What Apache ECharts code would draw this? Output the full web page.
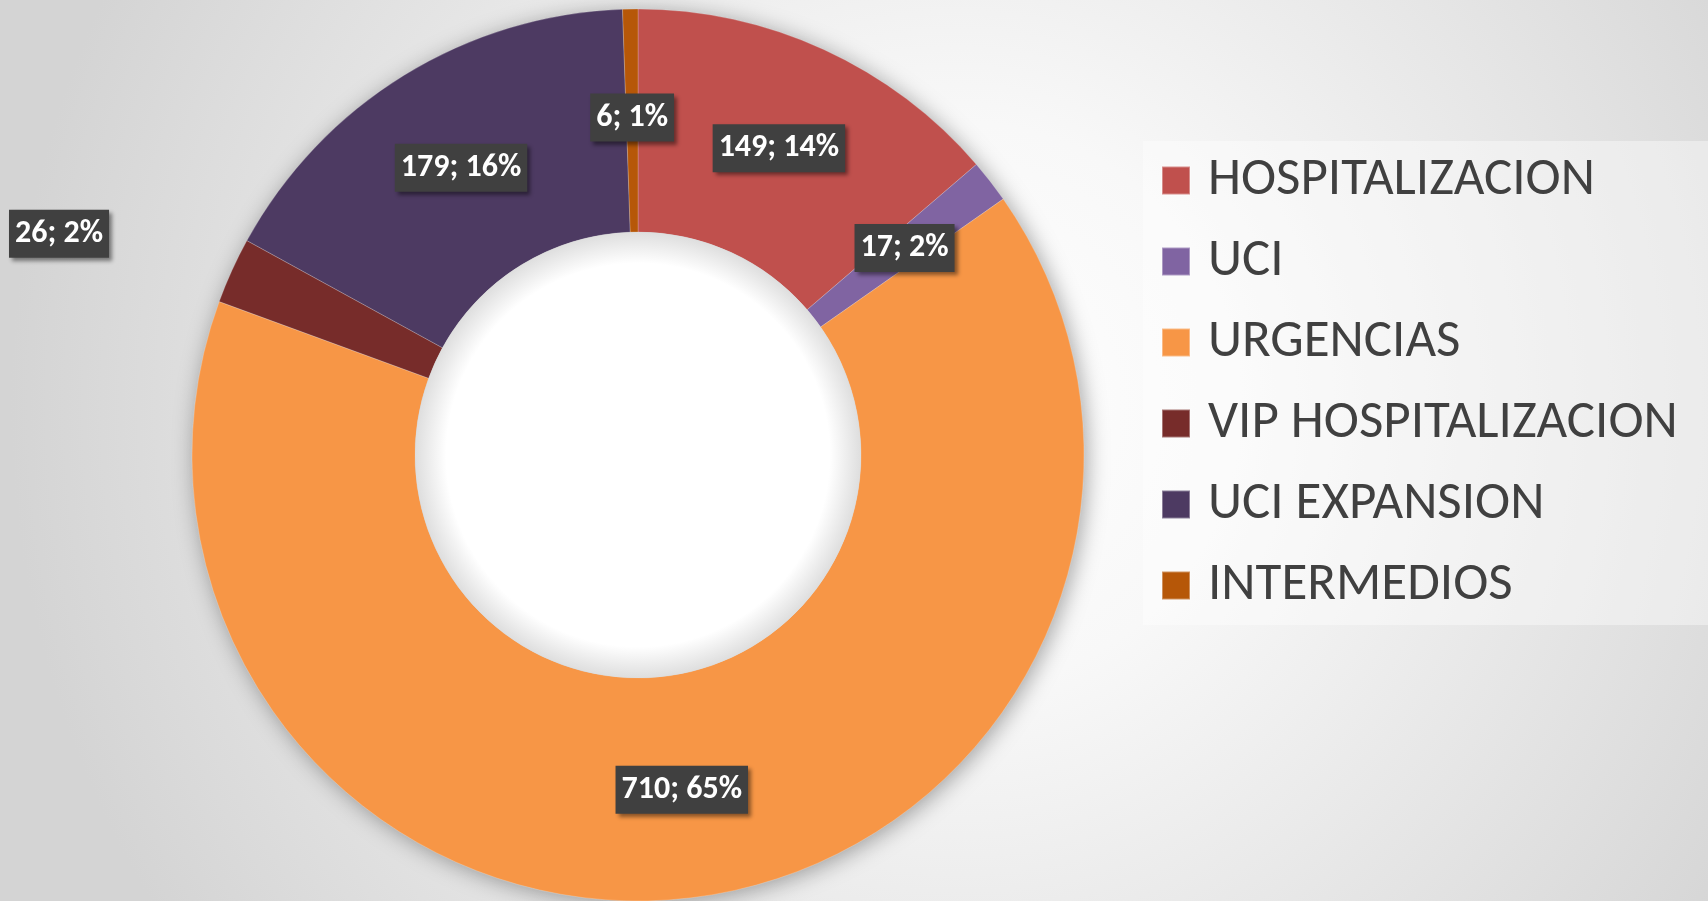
<!DOCTYPE html>
<html>
<head>
<meta charset="utf-8">
<script src="https://cdn.jsdelivr.net/npm/echarts@6/dist/echarts.min.js"></script>
<style>
  html, body { margin: 0; padding: 0; }
  #chart { width: 1708px; height: 901px; }
</style>
</head>
<body>
<div id="chart"></div>
<script>
// datos del grafico
var areas = ['HOSPITALIZACION', 'UCI', 'URGENCIAS', 'VIP HOSPITALIZACION', 'UCI EXPANSION', 'INTERMEDIOS'];
var pacientes = [149, 17, 710, 26, 179, 6];
var colores = ['#C0504D', '#8064A2', '#F79646', '#772C2A', '#4D3A62', '#B65708'];

var chart = echarts.init(document.getElementById('chart'));

var datos = [];
for (var i = 0; i < areas.length; i++) {
  var item = { name: areas[i], value: pacientes[i], itemStyle: { color: colores[i] } };
  // la etiqueta de VIP va fuera, a la izquierda
  if (areas[i] === 'VIP HOSPITALIZACION') {
    item.label = { position: 'outside', alignTo: 'edge', edgeDistance: 9 };
    item.labelLine = { show: false, length: 89, length2: 20 };
  }
  datos.push(item);
}

var etiqueta = {
  show: true,
  position: 'inside',
  formatter: '{c}; {d}%',
  color: '#fff',
  fontFamily: 'Carlito, Lato, sans-serif',
  fontWeight: 'bold',
  fontSize: 32,
  lineHeight: 38,
  backgroundColor: '#404040',
  padding: [5, 6],
  shadowColor: 'rgba(0,0,0,0.45)',
  shadowBlur: 4,
  shadowOffsetX: 3,
  shadowOffsetY: 3
};

var option = {
  backgroundColor: {
    type: 'radial', x: 0.56, y: 0.45, r: 1.05,
    colorStops: [
      { offset: 0, color: '#ffffff' },
      { offset: 0.3, color: '#f8f8f8' },
      { offset: 1, color: '#d4d4d4' }
    ]
  },
  animation: false,
  legend: {
    data: areas,
    orient: 'vertical',
    left: 1143,
    top: 141,
    icon: 'rect',
    itemWidth: 28,
    itemHeight: 28,
    itemGap: 28,
    padding: [13, 300, 13, 18],
    backgroundColor: 'rgba(255,255,255,0.4)',
    textStyle: {
      color: '#404040',
      fontFamily: 'Carlito, Lato, sans-serif',
      fontSize: 53,
      lineHeight: 52,
      padding: [0, 0, 0, 13]
    }
  },
  series: [
    {
      // sombra del anillo
      type: 'pie',
      silent: true,
      center: [638, 455],
      radius: [223, 446],
      z: 1,
      label: { show: false },
      labelLine: { show: false },
      data: [{ value: 1, name: '' }],
      itemStyle: {
        color: '#bbbbbb',
        shadowBlur: 22,
        shadowColor: 'rgba(0,0,0,0.35)',
        shadowOffsetX: 3,
        shadowOffsetY: 3
      }
    },
    {
      type: 'pie',
      center: [638, 455],
      radius: [223, 446],
      startAngle: 90,
      clockwise: true,
      percentPrecision: 0,
      z: 2,
      avoidLabelOverlap: false,
      label: etiqueta,
      labelLine: { show: false },
      itemStyle: { borderWidth: 0.6, borderColor: 'rgba(255,255,255,0.35)' },
      emphasis: { scale: false },
      data: datos
    },
    {
      // hueco central con sombra interior
      type: 'pie',
      silent: true,
      center: [638, 455],
      radius: [0, 223],
      z: 3,
      label: { show: false },
      labelLine: { show: false },
      data: [{ value: 1, name: '' }],
      itemStyle: {
        color: {
          type: 'radial', x: 0.5, y: 0.5, r: 0.5,
          colorStops: [
            { offset: 0, color: '#ffffff' },
            { offset: 0.86, color: '#ffffff' },
            { offset: 1, color: '#dedede' }
          ]
        }
      }
    }
  ]
};

window.onresize = chart.resize;
chart.setOption(option);
</script>
</body>
</html>
